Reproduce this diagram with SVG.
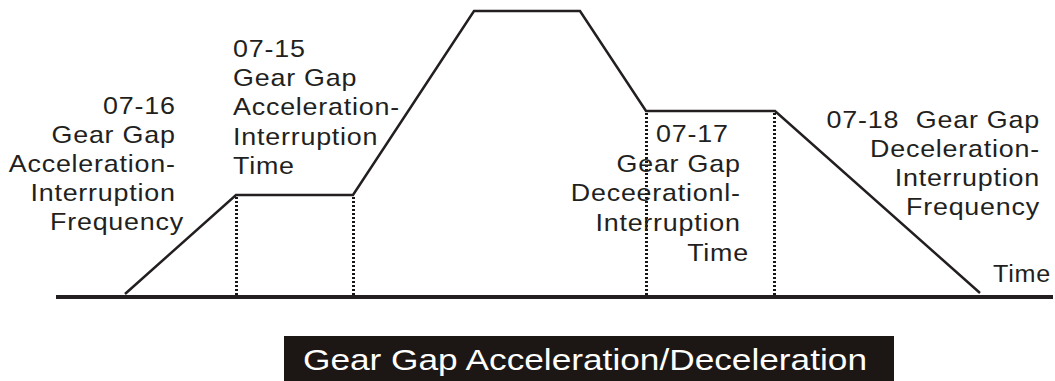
<svg xmlns="http://www.w3.org/2000/svg" width="1055" height="381" viewBox="0 0 1055 381">
<style>
.lbl{font-family:"Liberation Sans",Arial,sans-serif;font-size:24px;fill:#231f20;letter-spacing:0.7px}
.curve{fill:none;stroke:#231f20;stroke-width:2.5;stroke-linejoin:miter}
.dot{stroke:#1a1617;stroke-width:3;stroke-dasharray:2,2}
.ban{font-family:"Liberation Sans",Arial,sans-serif;font-size:30px;fill:#ffffff}
</style>
<rect width="1055" height="381" fill="#ffffff"/>
<g id="connectors">
<line x1="56" y1="297" x2="1053" y2="297" stroke="#231f20" stroke-width="4"/>
<polyline class="curve" points="125,294 236,195 353,195 474,11 580,11 646,111 775,111 980,293"/>
<line class="dot" x1="236.5" y1="197" x2="236.5" y2="295"/>
<line class="dot" x1="353.5" y1="197" x2="353.5" y2="295"/>
<line class="dot" x1="646.5" y1="113" x2="646.5" y2="295"/>
<line class="dot" x1="774.5" y1="113" x2="774.5" y2="295"/>
</g>
<g id="label-0716">
<text class="lbl" text-anchor="end" transform="translate(184,0) scale(1.12,1)">
<tspan x="0" y="114">07-16</tspan>
<tspan x="0" y="143">Gear Gap</tspan>
<tspan x="0" y="172">Acceleration-</tspan>
<tspan x="0" y="201">Interruption</tspan>
<tspan x="0" y="230">Frequency</tspan>
</text>
</g>
<g id="label-0715">
<text class="lbl" transform="translate(233,0) scale(1.12,1)">
<tspan x="0" y="57">07-15</tspan>
<tspan x="0" y="86">Gear Gap</tspan>
<tspan x="0" y="115">Acceleration-</tspan>
<tspan x="0" y="145">Interruption</tspan>
<tspan x="0" y="174">Time</tspan>
</text>
</g>
<g id="label-0717">
<text class="lbl" transform="translate(656,0) scale(1.12,1)"><tspan x="0" y="142">07-17</tspan></text>
<text class="lbl" text-anchor="end" transform="translate(749,0) scale(1.12,1)">
<tspan x="0" y="172">Gear Gap</tspan>
<tspan x="0" y="201">Deceerationl-</tspan>
<tspan x="0" y="231">Interruption</tspan>
<tspan x="0" y="261">Time</tspan>
</text>
</g>
<g id="label-0718">
<text class="lbl" text-anchor="end" transform="translate(1040,0) scale(1.12,1)" xml:space="preserve"><tspan x="0" y="128">07-18  Gear Gap</tspan><tspan x="0" y="157">Deceleration-</tspan><tspan x="0" y="186">Interruption</tspan><tspan x="0" y="215">Frequency</tspan></text>
</g>
<g id="label-time">
<text class="lbl" text-anchor="end" transform="translate(1051,0) scale(1.05,1)"><tspan x="0" y="282">Time</tspan></text>
</g>
<g id="banner">
<rect x="284" y="336" width="610" height="46" fill="#1c1715"/>
<text class="ban" x="303" y="370" textLength="564" lengthAdjust="spacingAndGlyphs">Gear Gap Acceleration/Deceleration</text>
</g>
</svg>
